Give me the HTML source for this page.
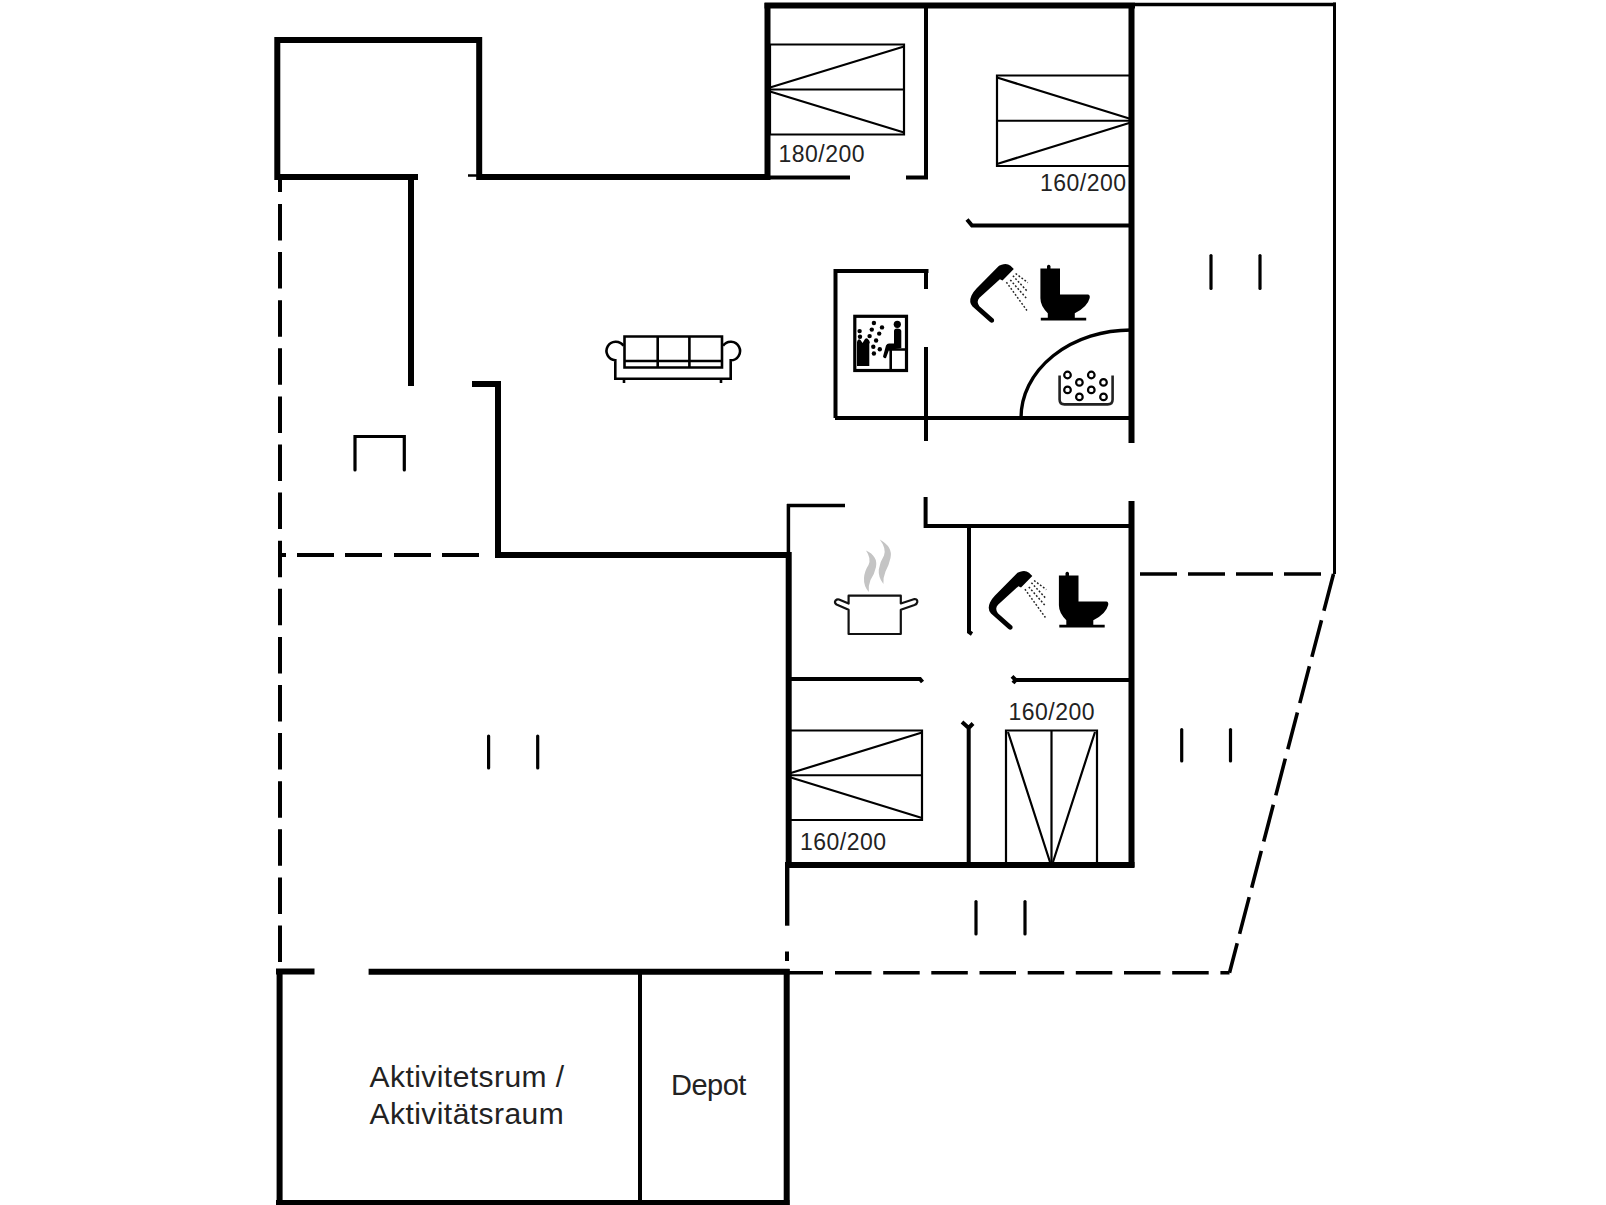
<!DOCTYPE html>
<html><head><meta charset="utf-8"><style>
html,body{margin:0;padding:0;background:#fff;overflow:hidden;}
svg{display:block;}
text{font-family:"Liberation Sans",sans-serif;fill:#222;}
</style></head><body>
<svg width="1606" height="1205" viewBox="0 0 1606 1205">
<path d="M277.3,180 L277.3,40 L479.2,40 L479.2,177 L767,177" stroke="#000" stroke-width="6" fill="none" stroke-linejoin="miter" stroke-linecap="butt"/>
<line x1="275" y1="177" x2="418" y2="177" stroke="#000" stroke-width="6" stroke-linecap="butt"/>
<line x1="411" y1="177" x2="411" y2="386" stroke="#000" stroke-width="6" stroke-linecap="butt"/>
<line x1="468" y1="175.5" x2="479" y2="175.5" stroke="#000" stroke-width="2.5" stroke-linecap="butt"/>
<path d="M472,384 L498,384 L498,555 L788,555" stroke="#000" stroke-width="6" fill="none" stroke-linejoin="miter" stroke-linecap="butt"/>
<line x1="764.5" y1="5.5" x2="1135" y2="5.5" stroke="#000" stroke-width="6" stroke-linecap="butt"/>
<line x1="767.5" y1="3" x2="767.5" y2="180" stroke="#000" stroke-width="6" stroke-linecap="butt"/>
<line x1="1131.5" y1="3" x2="1131.5" y2="443" stroke="#000" stroke-width="6" stroke-linecap="butt"/>
<line x1="1131.5" y1="501" x2="1131.5" y2="867" stroke="#000" stroke-width="6" stroke-linecap="butt"/>
<line x1="785" y1="865" x2="1134.5" y2="865" stroke="#000" stroke-width="6" stroke-linecap="butt"/>
<line x1="276" y1="971.5" x2="314.5" y2="971.5" stroke="#000" stroke-width="6" stroke-linecap="butt"/>
<line x1="368.6" y1="971.8" x2="789.5" y2="971.8" stroke="#000" stroke-width="6" stroke-linecap="butt"/>
<line x1="279.6" y1="969" x2="279.6" y2="1205" stroke="#000" stroke-width="6" stroke-linecap="butt"/>
<line x1="786.7" y1="969" x2="786.7" y2="1205" stroke="#000" stroke-width="6" stroke-linecap="butt"/>
<line x1="276" y1="1203" x2="789.5" y2="1203" stroke="#000" stroke-width="6" stroke-linecap="butt"/>
<line x1="640" y1="972" x2="640" y2="1205" stroke="#000" stroke-width="4" stroke-linecap="butt"/>
<line x1="767" y1="177.5" x2="850" y2="177.5" stroke="#000" stroke-width="4" stroke-linecap="butt"/>
<path d="M906,177.5 L926,177.5 L926,8" stroke="#000" stroke-width="4" fill="none" stroke-linejoin="miter" stroke-linecap="butt"/>
<path d="M967,219.5 L972,225.5 L1131,225.5" stroke="#000" stroke-width="4" fill="none" stroke-linejoin="miter" stroke-linecap="butt"/>
<path d="M835.5,418 L835.5,271 L928.5,271" stroke="#000" stroke-width="4" fill="none" stroke-linejoin="miter" stroke-linecap="butt"/>
<line x1="926" y1="271" x2="926" y2="289" stroke="#000" stroke-width="4" stroke-linecap="butt"/>
<line x1="926" y1="347" x2="926" y2="441" stroke="#000" stroke-width="4" stroke-linecap="butt"/>
<line x1="835" y1="418" x2="1131" y2="418" stroke="#000" stroke-width="4" stroke-linecap="butt"/>
<path d="M925.6,497 L925.6,526 L1131,526" stroke="#000" stroke-width="4" fill="none" stroke-linejoin="miter" stroke-linecap="butt"/>
<line x1="787" y1="505.5" x2="845" y2="505.5" stroke="#000" stroke-width="3.5" stroke-linecap="butt"/>
<line x1="788.4" y1="504" x2="788.4" y2="553" stroke="#000" stroke-width="3.5" stroke-linecap="butt"/>
<line x1="788.7" y1="552" x2="788.7" y2="866" stroke="#000" stroke-width="6" stroke-linecap="butt"/>
<line x1="787.2" y1="864" x2="787.2" y2="925.7" stroke="#000" stroke-width="4.4" stroke-linecap="butt"/>
<path d="M969,526 L969,632 L972,634" stroke="#000" stroke-width="4" fill="none" stroke-linejoin="miter" stroke-linecap="butt"/>
<path d="M788,679 L920,679 L922.5,682" stroke="#000" stroke-width="4" fill="none" stroke-linejoin="miter" stroke-linecap="butt"/>
<path d="M1012,676.3 L1015.7,680 L1013,683 M1015.7,680 L1131,680" stroke="#000" stroke-width="4" fill="none" stroke-linejoin="miter" stroke-linecap="butt"/>
<path d="M962,722 L968.7,728 L973,723.5 M968.7,728 L968.7,864" stroke="#000" stroke-width="4" fill="none" stroke-linejoin="miter" stroke-linecap="butt"/>
<line x1="1334.5" y1="2.5" x2="1334.5" y2="574" stroke="#000" stroke-width="3" stroke-linecap="butt"/>
<line x1="1135" y1="4.5" x2="1336" y2="4.5" stroke="#000" stroke-width="3.5" stroke-linecap="butt"/>
<line x1="280" y1="180" x2="280" y2="192" stroke="#000" stroke-width="4" stroke-linecap="butt"/>
<path d="M280.0,204.0L280.0,240.5M280.0,252.1L280.0,288.6M280.0,300.2L280.0,336.7M280.0,348.3L280.0,384.8M280.0,396.4L280.0,432.9M280.0,444.5L280.0,481.0M280.0,492.6L280.0,529.1M280.0,540.7L280.0,577.2M280.0,588.8L280.0,625.3M280.0,636.9L280.0,673.4M280.0,685.0L280.0,721.5M280.0,733.1L280.0,769.6M280.0,781.2L280.0,817.7M280.0,829.3L280.0,865.8M280.0,877.4L280.0,913.9M280.0,925.5L280.0,962.0" stroke="#000" stroke-width="4" fill="none" stroke-linejoin="miter" stroke-linecap="butt"/>
<line x1="279" y1="555" x2="286" y2="555" stroke="#000" stroke-width="4" stroke-linecap="butt"/>
<path d="M297.0,555.0L334.0,555.0M345.0,555.0L382.0,555.0M394.0,555.0L431.0,555.0M442.0,555.0L479.0,555.0" stroke="#000" stroke-width="4" fill="none" stroke-linejoin="miter" stroke-linecap="butt"/>
<path d="M1140.0,574.0L1177.0,574.0M1188.0,574.0L1225.0,574.0M1236.0,574.0L1273.0,574.0M1284.0,574.0L1321.0,574.0" stroke="#000" stroke-width="3.6" fill="none" stroke-linejoin="miter" stroke-linecap="butt"/>
<path d="M1333.5,574.0L1323.9,610.8M1321.5,620.2L1311.9,656.9M1309.4,666.3L1299.8,703.1M1297.4,712.5L1287.8,749.2M1285.3,758.6L1275.8,795.4M1273.3,804.8L1263.7,841.5M1261.3,850.9L1251.7,887.7M1249.2,897.1L1239.6,933.9M1237.2,943.2L1229.5,972.7" stroke="#000" stroke-width="3.6" fill="none" stroke-linejoin="miter" stroke-linecap="butt"/>
<line x1="789" y1="972.7" x2="823" y2="972.7" stroke="#000" stroke-width="3.6" stroke-linecap="butt"/>
<path d="M835.0,972.7L871.5,972.7M883.2,972.7L919.7,972.7M931.3,972.7L967.8,972.7M979.5,972.7L1016.0,972.7M1027.7,972.7L1064.2,972.7M1075.8,972.7L1112.3,972.7M1124.0,972.7L1160.5,972.7M1172.2,972.7L1208.7,972.7M1220.4,972.7L1229.5,972.7" stroke="#000" stroke-width="3.6" fill="none" stroke-linejoin="miter" stroke-linecap="butt"/>
<line x1="787" y1="951.5" x2="787" y2="961" stroke="#000" stroke-width="4" stroke-linecap="butt"/>
<line x1="1211" y1="255.5" x2="1211" y2="288.5" stroke="#000" stroke-width="3.2" stroke-linecap="round"/>
<line x1="1260" y1="255.5" x2="1260" y2="288.5" stroke="#000" stroke-width="3.2" stroke-linecap="round"/>
<line x1="488.6" y1="736" x2="488.6" y2="768" stroke="#000" stroke-width="3.2" stroke-linecap="round"/>
<line x1="537.7" y1="736" x2="537.7" y2="768" stroke="#000" stroke-width="3.2" stroke-linecap="round"/>
<line x1="1181.7" y1="729.5" x2="1181.7" y2="761" stroke="#000" stroke-width="3.2" stroke-linecap="round"/>
<line x1="1230.5" y1="729.5" x2="1230.5" y2="761" stroke="#000" stroke-width="3.2" stroke-linecap="round"/>
<line x1="976" y1="901.5" x2="976" y2="934" stroke="#000" stroke-width="3.2" stroke-linecap="round"/>
<line x1="1025" y1="901.5" x2="1025" y2="934" stroke="#000" stroke-width="3.2" stroke-linecap="round"/>
<path d="M355,470 L355,436.5 L404.3,436.5 L404.3,470" stroke="#000" stroke-width="3.2" fill="none" stroke-linejoin="miter" stroke-linecap="round"/>
<path d="M770,44.5 L904,44.5 L904,134.5 L770,134.5 Z M770,89.5 L904,89.5" stroke="#000" stroke-width="2.2" fill="none" stroke-linejoin="miter" stroke-linecap="butt"/>
<path d="M770,87.5 L904,46.5 M770,91.5 L904,132.5" stroke="#000" stroke-width="2.2" fill="none" stroke-linejoin="miter" stroke-linecap="butt"/>
<path d="M997,75.5 L1130,75.5 L1130,166 L997,166 Z M997,120.75 L1130,120.75" stroke="#000" stroke-width="2.2" fill="none" stroke-linejoin="miter" stroke-linecap="butt"/>
<path d="M1130,118.75 L997,77.5 M1130,122.75 L997,164" stroke="#000" stroke-width="2.2" fill="none" stroke-linejoin="miter" stroke-linecap="butt"/>
<path d="M790,730.5 L922,730.5 L922,820 L790,820 Z M790,775.25 L922,775.25" stroke="#000" stroke-width="2.2" fill="none" stroke-linejoin="miter" stroke-linecap="butt"/>
<path d="M790,773.25 L922,732.5 M790,777.25 L922,818" stroke="#000" stroke-width="2.2" fill="none" stroke-linejoin="miter" stroke-linecap="butt"/>
<path d="M1006,864 L1006,730.5 L1097,730.5 L1097,864 M1051.5,730.5 L1051.5,864" stroke="#000" stroke-width="2.2" fill="none" stroke-linejoin="miter" stroke-linecap="butt"/>
<path d="M1008,732 L1050,862 M1095,732 L1053,862" stroke="#000" stroke-width="2.2" fill="none" stroke-linejoin="miter" stroke-linecap="butt"/>
<path d="M624.5,336.5 L722,336.5 L722,367.5 L624.5,367.5 Z M657.7,336.5 L657.7,367.5 M689.4,336.5 L689.4,367.5 M624.5,361 L722,361" stroke="#000" stroke-width="2.6" fill="none" stroke-linejoin="miter" stroke-linecap="butt"/>
<path d="M623.5,345.8 A9.3,9.3 0 1 0 615.3,360.3 L615.3,378.75 L730.7,378.75 L730.7,360.3 A9.3,9.3 0 1 0 723,345.8" stroke="#000" stroke-width="2.6" fill="none" stroke-linejoin="miter" stroke-linecap="butt"/>
<path d="M624,378.5 L624,383 M721,378.5 L721,383" stroke="#000" stroke-width="2.6" fill="none" stroke-linejoin="miter" stroke-linecap="butt"/>
<path d="M1021,418 A110,88 0 0 1 1131,330" stroke="#000" stroke-width="3.4" fill="none" stroke-linejoin="miter" stroke-linecap="butt"/>
<path d="M1001.6,264.8 Q1006.8,262.8 1010.5,265.8 L1013.8,269.1 L1002.5,280.5 L999.9,279.2 L979.5,297.8 Q976,301.5 979.4,306.2 L993.8,319 Q995,322 992,322.7 Q990.5,323 989.4,321.6 L972.5,306.5 Q968.5,302 971.5,295.5 Q973.5,291.5 976.5,288.5 L999,265.8 Z" fill="#000"/>
<line x1="1015.6" y1="273.5" x2="1027.8" y2="282.6" stroke="#222" stroke-width="1.5" stroke-dasharray="1.8,1.9"/>
<line x1="1012.9" y1="275.7" x2="1026.9" y2="290.9" stroke="#222" stroke-width="1.5" stroke-dasharray="1.8,1.9"/>
<line x1="1010.3" y1="280" x2="1026.9" y2="298.8" stroke="#222" stroke-width="1.5" stroke-dasharray="1.8,1.9"/>
<line x1="1006.4" y1="282.2" x2="1026.9" y2="310.5" stroke="#222" stroke-width="1.5" stroke-dasharray="1.8,1.9"/>
<path d="M1040.4,268.4 L1047,268.4 L1047,266 Q1048.7,263.5 1050.5,266 L1050.5,268.4 L1060,268.4 L1060,294.6 L1087.8,294.6 Q1090.2,295 1089.7,298 Q1087.5,307 1074.8,313.2 L1074.8,317.8 L1086.2,317.8 L1086.2,320.6 L1040.8,320.6 L1040.8,317.8 L1047.8,317.8 L1047.8,313.2 Q1040.4,306 1040.4,298.3 Z" fill="#000"/>
<g transform="translate(18.5,307)"><path d="M1001.6,264.8 Q1006.8,262.8 1010.5,265.8 L1013.8,269.1 L1002.5,280.5 L999.9,279.2 L979.5,297.8 Q976,301.5 979.4,306.2 L993.8,319 Q995,322 992,322.7 Q990.5,323 989.4,321.6 L972.5,306.5 Q968.5,302 971.5,295.5 Q973.5,291.5 976.5,288.5 L999,265.8 Z" fill="#000"/>
<line x1="1015.6" y1="273.5" x2="1027.8" y2="282.6" stroke="#222" stroke-width="1.5" stroke-dasharray="1.8,1.9"/>
<line x1="1012.9" y1="275.7" x2="1026.9" y2="290.9" stroke="#222" stroke-width="1.5" stroke-dasharray="1.8,1.9"/>
<line x1="1010.3" y1="280" x2="1026.9" y2="298.8" stroke="#222" stroke-width="1.5" stroke-dasharray="1.8,1.9"/>
<line x1="1006.4" y1="282.2" x2="1026.9" y2="310.5" stroke="#222" stroke-width="1.5" stroke-dasharray="1.8,1.9"/>
<path d="M1040.4,268.4 L1047,268.4 L1047,266 Q1048.7,263.5 1050.5,266 L1050.5,268.4 L1060,268.4 L1060,294.6 L1087.8,294.6 Q1090.2,295 1089.7,298 Q1087.5,307 1074.8,313.2 L1074.8,317.8 L1086.2,317.8 L1086.2,320.6 L1040.8,320.6 L1040.8,317.8 L1047.8,317.8 L1047.8,313.2 Q1040.4,306 1040.4,298.3 Z" fill="#000"/></g>
<rect x="854.8" y="316.3" width="51.7" height="54.2" fill="none" stroke="#000" stroke-width="3.2"/>
<path d="M857,366 L857,342 Q858,338 860.5,340 L862.5,343 L865,339 Q867.5,337 869.3,341 L869.3,366 Z" fill="#000"/>
<circle cx="873.9" cy="323" r="2.2" fill="#000"/>
<circle cx="882" cy="327.4" r="2.2" fill="#000"/>
<circle cx="871.8" cy="329.6" r="2.2" fill="#000"/>
<circle cx="879.2" cy="333.6" r="2.2" fill="#000"/>
<circle cx="869.6" cy="336.1" r="2.2" fill="#000"/>
<circle cx="876.1" cy="340.5" r="2.2" fill="#000"/>
<circle cx="867.4" cy="342.3" r="2.2" fill="#000"/>
<circle cx="873.3" cy="346.7" r="2.2" fill="#000"/>
<circle cx="879.8" cy="349.2" r="2.2" fill="#000"/>
<circle cx="873.9" cy="353.5" r="2.2" fill="#000"/>
<circle cx="859.6" cy="331.1" r="2.2" fill="#000"/>
<circle cx="860" cy="336.7" r="2.2" fill="#000"/>
<circle cx="897.3" cy="324.3" r="3.6" fill="#000"/>
<path d="M894,331 Q894,328.5 897,328.5 Q901.3,328.5 901.3,331 L901.3,348 L889,350 L886,358 Q884,359 883,356.5 L886,345.5 Q887,343.5 889,343.5 L894,343.5 Z" fill="#000"/>
<path d="M888.6,349.5 L906.5,349.5 M890.7,349.5 L890.7,370.5" stroke="#000" stroke-width="2.6" fill="none"/>
<path d="M1059.6,375.4 L1059.6,399.5 Q1059.6,404.4 1064.5,404.4 L1107.7,404.4 Q1112.6,404.4 1112.6,399.5 L1112.6,375.4" stroke="#222" stroke-width="2.6" fill="none"/>
<circle cx="1067.5" cy="375" r="3.3" fill="none" stroke="#000" stroke-width="2.2"/>
<circle cx="1091.3" cy="375" r="3.3" fill="none" stroke="#000" stroke-width="2.2"/>
<circle cx="1079.4" cy="382.4" r="3.3" fill="none" stroke="#000" stroke-width="2.2"/>
<circle cx="1103.5" cy="382.4" r="3.3" fill="none" stroke="#000" stroke-width="2.2"/>
<circle cx="1067.5" cy="389.9" r="3.3" fill="none" stroke="#000" stroke-width="2.2"/>
<circle cx="1091.3" cy="389.9" r="3.3" fill="none" stroke="#000" stroke-width="2.2"/>
<circle cx="1079.4" cy="396.9" r="3.3" fill="none" stroke="#000" stroke-width="2.2"/>
<circle cx="1103.5" cy="396.9" r="3.3" fill="none" stroke="#000" stroke-width="2.2"/>
<path d="M848.6,603.5 L848.6,595.7 L900.8,595.7 L900.8,603.5 L914.5,599 Q917.5,599 917.3,602 Q917,604 914.5,605 L900.8,609.8 L900.8,634 L848.6,634 L848.6,609.8 L836.5,604.5 Q834,603 835.5,600.5 Q837,599 839,599.5 Z" stroke="#111" stroke-width="2.2" fill="none" stroke-linejoin="round"/>
<path d="M866,550.5 Q878,556 876,567 Q874.5,574 870.5,580 Q868.2,585.5 868.8,592 Q863.5,586 864,578 Q864.5,571 868.5,565 Q871.5,558.5 866,550.5 Z" fill="#c4c4c4"/>
<path d="M879.8,539.6 Q893,547 890.5,558 Q889,565 885.5,571.5 Q883,577.5 883.4,584 Q878,577 878.8,569.5 Q879.8,562 884,555.5 Q886.5,548.5 879.8,539.6 Z" fill="#c4c4c4"/>
<text x="778.5" y="162" font-size="23" letter-spacing="0.5" text-anchor="start">180/200</text>
<text x="1040" y="191" font-size="23" letter-spacing="0.5" text-anchor="start">160/200</text>
<text x="1008.5" y="720" font-size="23" letter-spacing="0.5" text-anchor="start">160/200</text>
<text x="800" y="849.5" font-size="23" letter-spacing="0.5" text-anchor="start">160/200</text>
<text x="369.5" y="1087" font-size="30" letter-spacing="0.45" text-anchor="start">Aktivitetsrum /</text>
<text x="369.5" y="1124" font-size="30" letter-spacing="0.45" text-anchor="start">Aktivitätsraum</text>
<text x="671" y="1095" font-size="29" letter-spacing="-0.5" text-anchor="start">Depot</text>
</svg></body></html>
